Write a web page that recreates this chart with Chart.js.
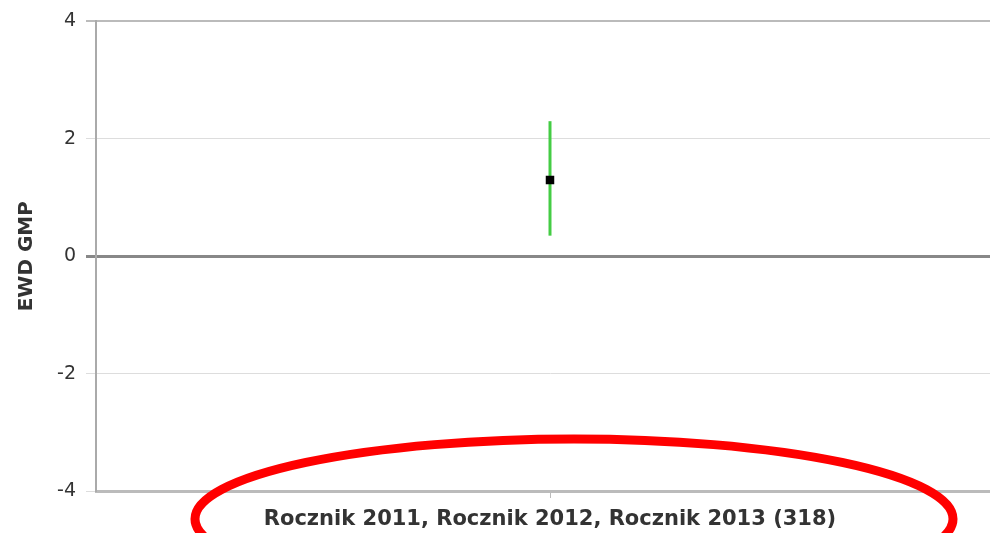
<!DOCTYPE html>
<html>
<head>
<meta charset="utf-8">
<script src="https://cdn.jsdelivr.net/npm/chart.js@4"></script>
<style>
  html, body { margin: 0; padding: 0; background: #fff; overflow: hidden; }
  #wrap { width: 1010px; height: 533px; }
</style>
</head>
<body>
<div id="wrap"><canvas id="ewdChart"></canvas></div>
<script>
// data
const categories = ['Rocznik 2011, Rocznik 2012, Rocznik 2013 (318)'];
const ewdValues = [1.3];
const ewdLower = [0.35];
const ewdUpper = [2.3];
const yTicks = [-4, -2, 0, 2, 4];

// error bar drawn under the point
const errorBars = {
    id: 'errorBars',
    beforeDatasetsDraw(chart) {
        const { ctx, scales: { x, y } } = chart;
        ctx.save();
        ctx.strokeStyle = '#44cc44';
        ctx.lineWidth = 3;
        categories.forEach((c, i) => {
            const px = x.getPixelForValue(i);
            ctx.beginPath();
            ctx.moveTo(px, y.getPixelForValue(ewdUpper[i]));
            ctx.lineTo(px, y.getPixelForValue(ewdLower[i]));
            ctx.stroke();
        });
        ctx.restore();
    }
};

// red ring around the category label
const redRing = {
    id: 'redRing',
    afterDraw(chart) {
        const { ctx } = chart;
        ctx.save();
        ctx.strokeStyle = '#ff0000';
        ctx.lineWidth = 9;
        ctx.beginPath();
        ctx.ellipse(574, 519, 379, 80, 0, 0, Math.PI * 2);
        ctx.stroke();
        ctx.restore();
    }
};

const config = {
    type: 'line',
    data: {
        labels: categories,
        datasets: [{
            data: ewdValues,
            showLine: false,
            pointStyle: 'rect',
            pointRadius: 6,
            pointHoverRadius: 6,
            pointBackgroundColor: '#000',
            pointBorderColor: '#000',
            pointBorderWidth: 0,
        }]
    },
    options: {
        responsive: true,
        maintainAspectRatio: false,
        animation: false,
        layout: { padding: { top: 18, right: 0, bottom: 0, left: 0 } },
        plugins: {
            legend: { display: false },
            tooltip: { enabled: false },
        },
        scales: {
            x: {
                offset: true,
                afterFit: (s) => { s.height = 42; },
                grid: {
                    drawOnChartArea: false,
                    drawTicks: true,
                    tickLength: 7,
                    color: '#bbb',
                },
                border: { color: '#bbb', width: 3 },
                ticks: {
                    color: '#333',
                    padding: 9,
                    font: { family: 'DejaVu Sans', size: 21, weight: 'bold' },
                },
            },
            y: {
                min: -4,
                max: 4,
                afterFit: (s) => { s.width = 96; },
                afterBuildTicks: (s) => { s.ticks = yTicks.map(v => ({ value: v })); },
                grid: {
                    tickLength: 10,
                    color: (c) => c.tick.value === 0 ? '#888' : (c.tick.value === 4 ? '#bbb' : '#ddd'),
                    lineWidth: (c) => c.tick.value === 0 ? 3 : (c.tick.value === 4 ? 2 : 1),
                },
                border: { color: '#aaa', width: 2 },
                ticks: {
                    color: '#333',
                    padding: 10,
                    font: { family: 'DejaVu Sans', size: 19 },
                },
                title: {
                    display: true,
                    text: 'EWD GMP',
                    color: '#333',
                    font: { family: 'DejaVu Sans', size: 20, weight: 'bold' },
                    padding: { top: 15, bottom: 0 },
                },
            }
        }
    },
    plugins: [errorBars, redRing]
};

new Chart(document.getElementById('ewdChart'), config);
</script>
</body>
</html>
